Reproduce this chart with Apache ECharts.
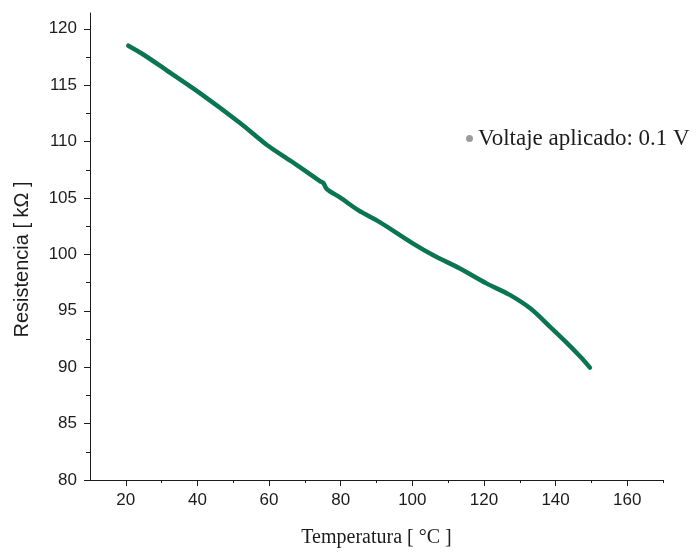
<!DOCTYPE html>
<html>
<head>
<meta charset="utf-8">
<script src="https://cdn.jsdelivr.net/npm/echarts@6/dist/echarts.min.js"></script>
<style>
  html, body { margin: 0; padding: 0; background: #fff; }
  #chart { width: 699px; height: 555px; }
</style>
</head>
<body>
<div id="chart"></div>
<script>
// values
const temperature = [20.7, 25, 31.5, 40.7, 51.9, 59.4, 66, 74.2, 75.2, 76.1, 79.8, 85, 90.9, 100, 106, 113.3, 120.7, 127.2, 133, 138.4, 143, 147, 149.6];
const resistance = [118.5, 117.7, 116.3, 114.3, 111.65, 109.7, 108.3, 106.5, 106.3, 105.8, 105.05, 103.9, 102.86, 101.0, 99.9, 98.75, 97.43, 96.41, 95.2, 93.6, 92.2, 90.9, 89.96];
const xMajor = [20, 40, 60, 80, 100, 120, 140, 160];
const xMinor = [30, 50, 70, 90, 110, 130, 150, 170];
const yMajor = [80, 85, 90, 95, 100, 105, 110, 115, 120];
const yMinor = [82.5, 87.5, 92.5, 97.5, 102.5, 107.5, 112.5, 117.5];
const seriesName = "Voltaje aplicado: 0.1 V";

const ink = "#1c1c1c";
const sans = "Liberation Sans";
const serif = "Liberation Serif";

const chart = echarts.init(document.getElementById("chart"));

chart.setOption({
  backgroundColor: "#ffffff",
  animation: false,
  grid: { left: 90, right: 36, top: 13, bottom: 75 },
  legend: {
    left: 461,
    top: 122,
    itemWidth: 7,
    itemHeight: 7,
    icon: "circle",
    textStyle: { fontFamily: serif, fontSize: 23, color: ink },
    data: [{ name: seriesName, itemStyle: { color: "#9b9b9b" } }]
  },
  xAxis: [
    {
      type: "value",
      min: 10,
      max: 170,
      interval: 10,
      splitLine: { show: false },
      axisLine: { onZero: false, lineStyle: { color: ink, width: 1 } },
      axisTick: { customValues: xMajor, length: 6, lineStyle: { color: ink } },
      axisLabel: { customValues: xMajor, margin: 12, fontFamily: sans, fontSize: 17, color: ink },
      name: "Temperatura [ °C ]",
      nameLocation: "middle",
      nameGap: 48,
      nameTextStyle: { fontFamily: serif, fontSize: 20, color: ink }
    },
    {
      type: "value",
      min: 10,
      max: 170,
      position: "bottom",
      splitLine: { show: false },
      axisLine: { show: false },
      axisLabel: { show: false },
      axisTick: { customValues: xMinor, length: 3, lineStyle: { color: ink } }
    }
  ],
  yAxis: [
    {
      type: "value",
      min: 80,
      max: 121.4,
      interval: 5,
      splitLine: { show: false },
      axisLine: { show: true, onZero: false, lineStyle: { color: ink, width: 1 } },
      axisTick: { show: true, customValues: yMajor, length: 6, lineStyle: { color: ink } },
      axisLabel: { customValues: yMajor, margin: 13, fontFamily: sans, fontSize: 17, color: ink },
      name: "Resistencia [ kΩ ]",
      nameLocation: "middle",
      nameGap: 58,
      nameTextStyle: { fontFamily: sans, fontSize: 20, color: ink, padding: [0, 26, 0, 0] }
    },
    {
      type: "value",
      min: 80,
      max: 121.4,
      position: "left",
      splitLine: { show: false },
      axisLine: { show: false },
      axisLabel: { show: false },
      axisTick: { show: true, customValues: yMinor, length: 4, lineStyle: { color: ink } }
    }
  ],
  series: [
    {
      name: seriesName,
      type: "line",
      xAxisIndex: 0,
      yAxisIndex: 0,
      data: temperature.map((t, i) => [t, resistance[i]]),
      smooth: 0.3,
      showSymbol: false,
      lineStyle: { color: "#0a7550", width: 4.5, cap: "round" },
      itemStyle: { color: "#9b9b9b" }
    }
  ]
});
</script>
</body>
</html>
